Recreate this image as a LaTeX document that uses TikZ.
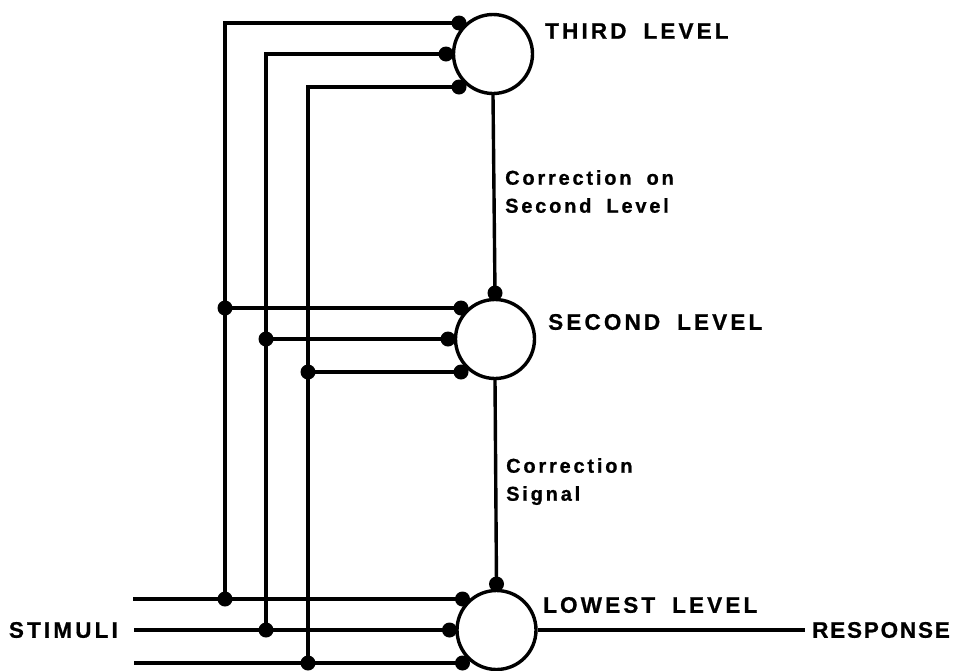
\documentclass[tikz,border=0pt]{standalone}
\usepackage{fontspec}
\newfontfamily\labfont[LetterSpace=14,WordSpace=1.8,FakeBold=0.8]{Liberation Sans}
\newfontfamily\labtight[LetterSpace=8,WordSpace=1.8,FakeBold=0.8]{Liberation Sans}
\begin{document}
\begin{tikzpicture}[x=1pt,y=-1pt,
  wire/.style={line width=3.4pt},
  level/.style={circle,draw,line width=3.4pt,minimum size=79pt,inner sep=0pt},
  junction/.style={circle,fill,inner sep=0pt,minimum size=15pt},
  caps/.style={font=\labfont\bfseries\fontsize{22.5}{26}\selectfont,inner sep=0pt},
  note/.style={font=\labfont\bfseries\fontsize{20}{28}\selectfont,inner sep=0pt,align=left}]
\useasboundingbox (0,0) rectangle (953,670);

% the three levels
\node[level] (third)  at (493,54)    {};
\node[level] (second) at (495,339)   {};
\node[level] (lowest) at (496.5,630) {};

% input contacts on each level
\foreach \lv in {third,second,lowest}{
  \node[junction] (\lv-a) at ([shift={(-34,-31)}]\lv.center) {};
  \node[junction] (\lv-b) at ([shift={(-47,0)}]\lv.center) {};
  \node[junction] (\lv-c) at ([shift={(-34,33)}]\lv.center) {};
}
\node[junction] (second-top) at ([shift={(0,-46)}]second.center) {};
\node[junction] (lowest-top) at ([shift={(0,-46)}]lowest.center) {};

% vertical stimulus buses
\coordinate (xA) at (225,0);
\coordinate (xB) at (266,0);
\coordinate (xC) at (308,0);
\coordinate (sA) at (133,0 |- lowest-a.center);
\coordinate (sB) at (134,0 |- lowest-b.center);
\coordinate (sC) at (134,0 |- lowest-c.center);

\node[junction] (jA1) at (xA |- lowest-a.center) {};
\node[junction] (jB1) at (xB |- lowest-b.center) {};
\node[junction] (jC1) at (xC |- lowest-c.center) {};
\node[junction] (jA2) at (xA |- second-a.center) {};
\node[junction] (jB2) at (xB |- second-b.center) {};
\node[junction] (jC2) at (xC |- second-c.center) {};

\draw[wire] (sA) -- (lowest-a.center);
\draw[wire] (sB) -- (lowest-b.center);
\draw[wire] (sC) -- (lowest-c.center);
\draw[wire] (jA1.center) |- (third-a.center);
\draw[wire] (jB1.center) |- (third-b.center);
\draw[wire] (jC1.center) |- (third-c.center);
\draw[wire] (jA2.center) -- (second-a.center);
\draw[wire] (jB2.center) -- (second-b.center);
\draw[wire] (jC2.center) -- (second-c.center);

% correction paths between levels
\draw[wire] (third.south) -- (second-top.center);
\draw[wire] (second.south) -- (lowest-top.center);

% output
\coordinate (respend) at (805,0 |- lowest.center);
\draw[wire] (lowest.east) -- (respend);

% labels
\node[caps,anchor=west] (t3) at (545,31) {THIRD LEVEL};
\node[caps,anchor=west] (t2) at (548,322) {SECOND LEVEL};
\node[caps,anchor=west] (t1) at (543,605) {LOWEST LEVEL};
\node[caps,anchor=west,font=\labtight\bfseries\fontsize{22.5}{26}\selectfont] (resp) at (812,630) {RESPONSE};
\node[caps,anchor=east] (stim) at (118,630) {STIMULI};
\node[note,anchor=north west] (c2) at (505,170) {Correction on\\Second Level};
\node[note,anchor=north west] (c1) at (506,458) {Correction\\Signal};
\end{tikzpicture}
\end{document}
